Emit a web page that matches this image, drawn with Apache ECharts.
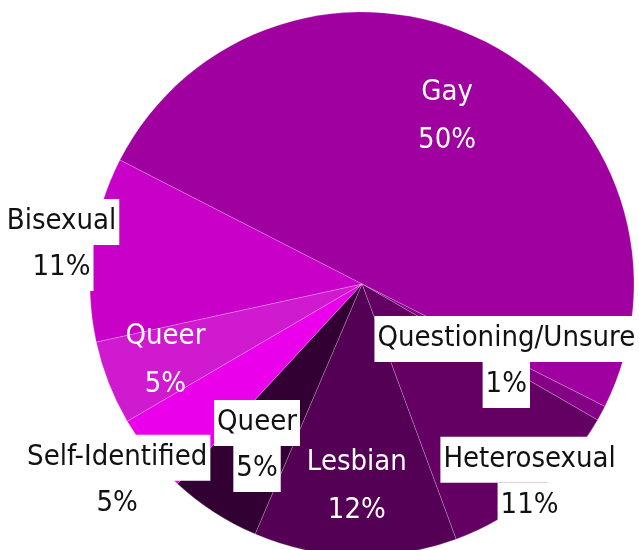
<!DOCTYPE html>
<html>
<head>
<meta charset="utf-8">
<script src="https://cdn.jsdelivr.net/npm/echarts@6/dist/echarts.min.js"></script>
<style>
  html, body { margin: 0; padding: 0; background: #fff; }
  #chart { width: 639px; height: 550px; }
</style>
</head>
<body>
<div id="chart"></div>
<script>
// data, clockwise starting at the Gay slice
const names = ["Gay", "Questioning/Unsure", "Heterosexual", "Lesbian", "Queer", "Self-Identified", "Queer", "Bisexual"];
const values = [49.9, 0.9, 11.05, 12.05, 5.45, 4.7, 5.0, 10.95];

// styling
const colors = ["#a000a0", "#840084", "#640064", "#540054", "#320032", "#ea00ea", "#d01ad0", "#c800c8"];
const boxed = [false, true, true, false, true, true, false, true]; // black text on white box
const labelRadius = [185, 161, 257, 200, 190, 311, 208, 300]; // where each label sits from centre
const R = 272;
const startAngle = 152.9;
const font = "'DejaVu Sans Condensed', sans-serif";
const fs = 29;

const total = values.reduce((a, b) => a + b, 0);
let cum = 0;
const seriesData = names.map((n, i) => {
    // mid angle of slice, screen coords (clockwise from east)
    const mid = (-startAngle + (cum + values[i] / 2) / total * 360) * Math.PI / 180;
    cum += values[i];
    const extra = labelRadius[i] - R / 2;
    return {
        name: n,
        value: values[i],
        itemStyle: { color: colors[i] },
        label: {
            offset: [extra * Math.cos(mid), extra * Math.sin(mid)],
            formatter: (p) => {
                const k = boxed[i] ? "b" : "w";
                return "{" + k + "|" + p.name + "}\n{" + k + "|" + Math.round(p.percent) + "%}";
            }
        }
    };
});

const chart = echarts.init(document.getElementById("chart"));
chart.setOption({
    animation: false,
    series: [{
        type: "pie",
        center: [362, 284],
        radius: [0, R],
        startAngle: startAngle,
        clockwise: true,
        data: seriesData,
        itemStyle: {
            borderColor: "rgba(255,255,255,0.35)",
            borderWidth: 0.6
        },
        label: {
            show: true,
            position: "inside",
            fontFamily: font,
            fontSize: fs,
            rich: {
                b: {
                    fontFamily: font,
                    fontSize: fs,
                    color: "#111",
                    backgroundColor: "#fff",
                    padding: [8, 3, 9, 3]
                },
                w: {
                    fontFamily: font,
                    fontSize: fs,
                    lineHeight: 48,
                    color: "#fff"
                }
            }
        },
        labelLine: { show: false },
        emphasis: { disabled: true }
    }]
});
</script>
</body>
</html>
